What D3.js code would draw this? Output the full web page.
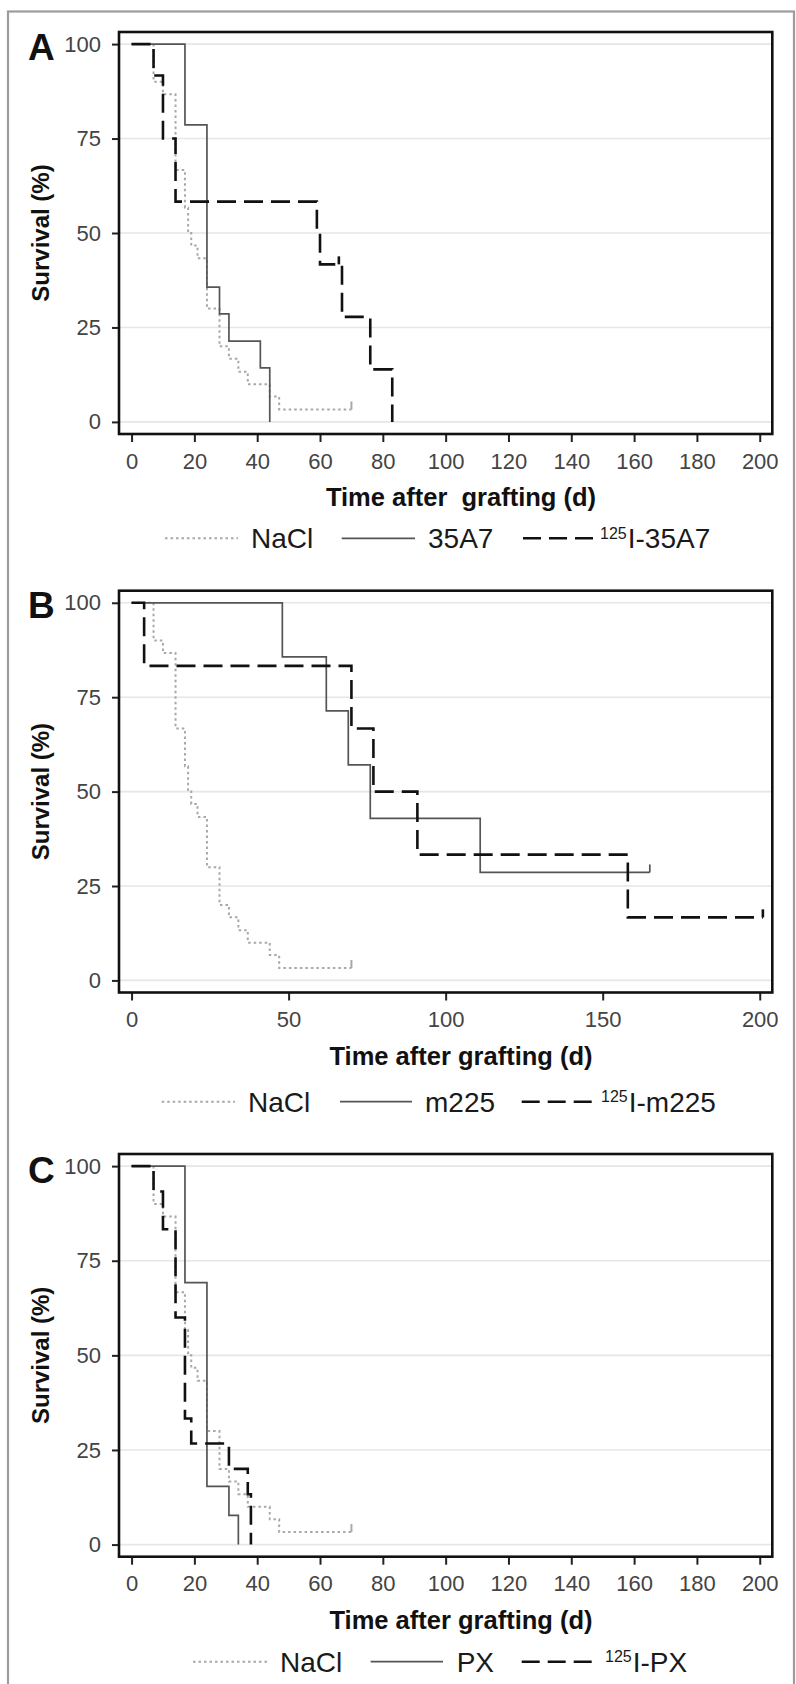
<!DOCTYPE html>
<html><head><meta charset="utf-8">
<script src="https://cdn.jsdelivr.net/npm/d3@7"></script>
<style>
body{margin:0;background:#fff}
svg{display:block}
text{font-family:"Liberation Sans",Arial,Helvetica,sans-serif}
</style>
</head><body>
<svg id="chart" width="796" height="1684"></svg>
<script>
// ---------------- data ----------------
const panelLetters = ["A", "B", "C"];
const xTicksA = [0, 20, 40, 60, 80, 100, 120, 140, 160, 180, 200];
const xTicksB = [0, 50, 100, 150, 200];
const xTicksC = [0, 20, 40, 60, 80, 100, 120, 140, 160, 180, 200];
const yTicks = [0, 25, 50, 75, 100];
const yTitle = "Survival (%)";
const xTitles = ["Time after  grafting (d)", "Time after grafting (d)", "Time after grafting (d)"];
const isotope = "125";
const legendA = ["NaCl", "35A7", "125I-35A7"];
const legendB = ["NaCl", "m225", "125I-m225"];
const legendC = ["NaCl", "PX", "125I-PX"];

// NaCl control (same group in all panels)
const naclTime = [0, 7, 10, 14, 17, 18, 19, 21, 24, 28, 31, 34, 37, 44, 47, 70];
const naclSurv = [100, 90, 86.7, 66.7, 56.7, 50, 46.7, 43.3, 30, 20, 16.7, 13.3, 10, 6.7, 3.3, 3.3];
const naclCensor = [70];

// Panel A
const a35Time = [0, 17, 24, 28, 31, 41, 44];
const a35Surv = [100, 78.6, 35.7, 28.6, 21.4, 14.3, 0];
const a35Censor = [];
const i35Time = [0, 7, 10, 14, 59, 60, 67, 76, 83];
const i35Surv = [100, 91.7, 75, 58.3, 50, 41.7, 27.8, 13.9, 0];
const i35Censor = [66];

// Panel B
const m225Time = [0, 48, 62, 69, 76, 111, 165];
const m225Surv = [100, 85.7, 71.4, 57.1, 42.9, 28.6, 28.6];
const m225Censor = [165];
const im225Time = [0, 4, 70, 77, 91, 158, 201];
const im225Surv = [100, 83.3, 66.7, 50, 33.3, 16.7, 16.7];
const im225Censor = [201];

// Panel C
const pxTime = [0, 17, 24, 31, 34];
const pxSurv = [100, 69.2, 15.4, 7.7, 0];
const pxCensor = [];
const ipxTime = [0, 7, 10, 14, 17, 19, 31, 37, 38];
const ipxSurv = [100, 93.3, 83.3, 60, 33.3, 26.7, 20, 13.3, 0];
const ipxCensor = [];

// ---------------- styles / layout ----------------
const styles = [
  {stroke: "#a8a8a8", width: 2, dash: "2.5,3"},
  {stroke: "#555555", width: 1.7, dash: null},
  {stroke: "#111111", width: 2.6, dash: "19,8"}
];

const panels = [
  {letter: panelLetters[0], xTicks: xTicksA, title: xTitles[0], legend: legendA,
   series: [[naclTime, naclSurv, naclCensor], [a35Time, a35Surv, a35Censor], [i35Time, i35Surv, i35Censor]],
   top: 32, bottom: 434, letterY: 60, legY: 538.3,
   legX: [[165, 238, 251], [341.7, 415, 428], [523, 594, 600]]},
  {letter: panelLetters[1], xTicks: xTicksB, title: xTitles[1], legend: legendB,
   series: [[naclTime, naclSurv, naclCensor], [m225Time, m225Surv, m225Censor], [im225Time, im225Surv, im225Censor]],
   top: 590.7, bottom: 992.5, letterY: 618, legY: 1101.7,
   legX: [[161.7, 235, 248], [340, 412, 425], [521.7, 595, 601]]},
  {letter: panelLetters[2], xTicks: xTicksC, title: xTitles[2], legend: legendC,
   series: [[naclTime, naclSurv, naclCensor], [pxTime, pxSurv, pxCensor], [ipxTime, ipxSurv, ipxCensor]],
   top: 1154, bottom: 1556.7, letterY: 1183, legY: 1661.7,
   legX: [[193, 267, 280], [370.6, 443, 456.7], [521.7, 595, 605]]}
];

const boxLeft = 119, boxRight = 772.3;
const svg = d3.select("#chart");

// outer frame
svg.append("rect").attr("x", 8).attr("y", 11.5).attr("width", 786).attr("height", 1700)
  .attr("fill", "none").attr("stroke", "#9c9c9c").attr("stroke-width", 2.2);

panels.forEach(p => {
  const x = d3.scaleLinear().domain([-4, 204]).range([boxLeft, boxRight]);
  const y = d3.scaleLinear().domain([-3.2, 103.2]).range([p.bottom, p.top]);
  const g = svg.append("g");

  // gridlines
  g.selectAll("line.grid").data(yTicks).join("line").attr("class", "grid")
    .attr("x1", boxLeft).attr("x2", boxRight)
    .attr("y1", d => y(d)).attr("y2", d => y(d))
    .attr("stroke", "#e6e6e6").attr("stroke-width", 1.6);

  // y axis
  const yAxis = g.append("g").attr("transform", `translate(${boxLeft},0)`)
    .call(d3.axisLeft(y).tickValues(yTicks).tickSize(7).tickPadding(11));
  yAxis.select(".domain").remove();
  yAxis.selectAll(".tick line").attr("stroke", "#222").attr("stroke-width", 2);
  yAxis.selectAll(".tick text").attr("fill", "#444").attr("font-size", 22)
    .attr("font-family", "Liberation Sans, Arial, sans-serif");

  // x axis
  const xAxis = g.append("g").attr("transform", `translate(0,${p.bottom})`)
    .call(d3.axisBottom(x).tickValues(p.xTicks).tickSize(8).tickPadding(11));
  xAxis.select(".domain").remove();
  xAxis.selectAll(".tick line").attr("stroke", "#222").attr("stroke-width", 2);
  xAxis.selectAll(".tick text").attr("fill", "#444").attr("font-size", 22)
    .attr("font-family", "Liberation Sans, Arial, sans-serif");

  // curves
  const line = d3.line().x(d => x(d[0])).y(d => y(d[1])).curve(d3.curveStepAfter);
  p.series.forEach((s, i) => {
    const pts = s[0].map((t, k) => [t, s[1][k]]);
    const st = styles[i];
    g.append("path").datum(pts).attr("d", line)
      .attr("fill", "none").attr("stroke", st.stroke).attr("stroke-width", st.width)
      .attr("stroke-dasharray", st.dash);
    // censor marks
    s[2].forEach(ct => {
      const i0 = d3.bisectRight(s[0], ct) - 1;
      const v = s[1][Math.max(0, i0)];
      g.append("line").attr("x1", x(ct)).attr("x2", x(ct))
        .attr("y1", y(v)).attr("y2", y(v) - 8)
        .attr("stroke", st.stroke).attr("stroke-width", st.width);
    });
  });

  // box
  g.append("rect").attr("x", boxLeft).attr("y", p.top)
    .attr("width", boxRight - boxLeft).attr("height", p.bottom - p.top)
    .attr("fill", "none").attr("stroke", "#111").attr("stroke-width", 2.6);

  // panel letter
  g.append("text").attr("x", 28).attr("y", p.letterY).text(p.letter)
    .attr("font-size", 37).attr("font-weight", "bold").attr("fill", "#111");

  // y title
  g.append("text")
    .attr("transform", `translate(49,${(y(0) + y(100)) / 2}) rotate(-90)`)
    .attr("text-anchor", "middle").attr("font-size", 24).attr("font-weight", "bold")
    .attr("fill", "#111").text(yTitle);

  // x title
  g.append("text").attr("x", 461).attr("y", p.bottom + 72)
    .attr("text-anchor", "middle").attr("font-size", 25.5).attr("font-weight", "bold")
    .attr("fill", "#111").style("white-space", "pre").text(p.title);

  // legend
  p.legend.forEach((lab, i) => {
    const [x0, x1, tx] = p.legX[i];
    const st = styles[i];
    g.append("line").attr("x1", x0).attr("x2", x1).attr("y1", p.legY).attr("y2", p.legY)
      .attr("stroke", st.stroke).attr("stroke-width", st.width)
      .attr("stroke-dasharray", i === 2 ? "18,8" : st.dash);
    const t = g.append("text").attr("x", tx).attr("y", p.legY + 10)
      .attr("font-size", 28).attr("fill", "#1a1a1a");
    if (lab.startsWith(isotope)) {
      t.append("tspan").attr("font-size", 16).attr("dy", -9.5).text(isotope);
      t.append("tspan").attr("dy", 9.5).attr("dx", 1).text(lab.slice(isotope.length));
    } else {
      t.text(lab);
    }
  });
});
</script>
</body></html>
